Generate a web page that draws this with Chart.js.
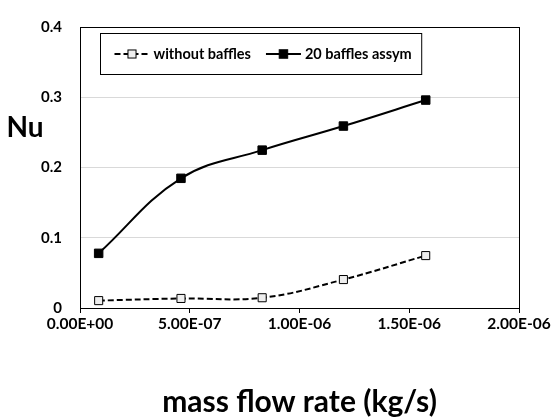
<!DOCTYPE html>
<html><head><meta charset="utf-8">
<script src="https://cdn.jsdelivr.net/npm/chart.js@4/dist/chart.umd.min.js"></script>
<style>html,body{margin:0;padding:0;background:#fff;overflow:hidden}canvas{display:block}</style>
</head><body>
<canvas id="c" width="559" height="418"></canvas>
<script>
// ---- data ----
const massFlow = [8.5e-8, 4.6e-7, 8.3e-7, 1.2e-6, 1.575e-6];
const nuWithoutBaffles = [0.0105, 0.0136, 0.0146, 0.0405, 0.0746];
const nu20BafflesAssym = [0.0778, 0.1846, 0.2247, 0.259, 0.296];
const xTickValues = [0, 5e-7, 1e-6, 1.5e-6, 2e-6];
const yTickValues = [0, 0.1, 0.2, 0.3, 0.4];
const seriesNames = ['without baffles', '20 baffles assym'];
const xTitle = 'mass flow rate (kg/s)';
const yTitle = 'Nu';

const FONT = 'Lato, "Open Sans", sans-serif';

function excelExp(v) {
  const s = Number(v).toExponential(2);
  const [m, e] = s.split('e');
  return m + 'E' + e[0] + e.slice(1).padStart(2, '0');
}
const toPoints = ys => massFlow.map((x, i) => ({x: x, y: ys[i]}));

const frame = {
  id: 'frame',
  beforeDatasetsDraw(chart) {
    const {ctx, chartArea: a} = chart;
    ctx.save();
    ctx.strokeStyle = '#000';
    ctx.lineWidth = 1;
    ctx.strokeRect(Math.round(a.left) + 0.5, Math.round(a.top) + 0.5,
      Math.round(a.right) - Math.round(a.left), Math.round(a.bottom) - Math.round(a.top));
    ctx.restore();
  }
};

const sideTitle = {
  id: 'sideTitle',
  afterDraw(chart) {
    const {ctx, chartArea: a} = chart;
    ctx.save();
    ctx.font = 'bold 28px ' + FONT;
    ctx.fillStyle = '#000';
    ctx.textAlign = 'center';
    ctx.textBaseline = 'middle';
    ctx.fillText(yTitle, 25, a.top + 101);
    ctx.restore();
  }
};

const boxLegend = {
  id: 'boxLegend',
  afterDraw(chart) {
    const {ctx, chartArea: a} = chart;
    const ds = chart.data.datasets;
    ctx.save();
    ctx.font = 'bold 14.5px ' + FONT;
    const L = Math.round(a.left) + 20.5, T = Math.round(a.top) + 6.5, H = 41;
    const markW = 35, padL = 14, gapMT = 4, gapItems = 15, padR = 10;
    const w0 = ctx.measureText(ds[0].label).width;
    const w1 = ctx.measureText(ds[1].label).width;
    const W = padL + markW + gapMT + w0 + gapItems + markW + gapMT + w1 + padR;
    ctx.strokeStyle = '#000'; ctx.lineWidth = 1;
    ctx.fillStyle = '#fff';
    ctx.fillRect(L, T, W, H);
    ctx.strokeRect(L, T, W, H);
    const cy = T + H / 2;
    let x = L + padL;
    ds.forEach((d, i) => {
      ctx.save();
      ctx.strokeStyle = d.borderColor; ctx.lineWidth = d.borderWidth;
      ctx.setLineDash(d.borderDash || []);
      ctx.beginPath(); ctx.moveTo(x, cy); ctx.lineTo(x + markW, cy); ctx.stroke();
      ctx.setLineDash([]);
      const s = d.pointRadius * Math.SQRT1_2;
      ctx.fillStyle = d.pointBackgroundColor;
      ctx.fillRect(x + markW / 2 - s, cy - s, 2 * s, 2 * s);
      ctx.lineWidth = d.pointBorderWidth; ctx.strokeStyle = d.pointBorderColor;
      ctx.strokeRect(x + markW / 2 - s, cy - s, 2 * s, 2 * s);
      ctx.restore();
      x += markW + gapMT;
      ctx.fillStyle = '#000';
      ctx.textAlign = 'left'; ctx.textBaseline = 'middle';
      ctx.fillText(d.label, x, cy);
      x += (i === 0 ? w0 : w1) + gapItems;
    });
    ctx.restore();
  }
};

new Chart(document.getElementById('c'), {
  type: 'scatter',
  data: {
    datasets: [
      {
        label: seriesNames[0],
        data: toPoints(nuWithoutBaffles),
        showLine: true,
        borderColor: '#000', borderWidth: 2, borderDash: [6, 3],
        tension: 0.4,
        pointStyle: 'rect', pointRadius: 5.7, pointHoverRadius: 5.7,
        pointBackgroundColor: '#eeeeee', pointBorderColor: '#000', pointBorderWidth: 1
      },
      {
        label: seriesNames[1],
        data: toPoints(nu20BafflesAssym),
        showLine: true,
        borderColor: '#000', borderWidth: 2,
        tension: 0.4,
        pointStyle: 'rect', pointRadius: 6, pointHoverRadius: 6,
        pointBackgroundColor: '#000', pointBorderColor: '#000', pointBorderWidth: 1
      }
    ]
  },
  options: {
    responsive: false,
    animation: false,
    devicePixelRatio: 1,
    layout: {padding: {top: 14, right: 40, left: 0, bottom: 0}},
    plugins: {legend: {display: false}, tooltip: {enabled: false}},
    scales: {
      x: {
        type: 'linear', min: 0, max: 2e-6,
        afterBuildTicks: s => { s.ticks = xTickValues.map(v => ({value: v})); },
        afterFit: s => { s.height = 110; },
        grid: {drawOnChartArea: false, drawTicks: true, tickLength: 5, color: '#000'},
        border: {color: '#000', width: 1},
        ticks: {
          color: '#000', padding: 2, maxRotation: 0, autoSkip: false,
          font: {family: FONT, size: 15.5, weight: 'bold'},
          callback: v => excelExp(v)
        },
        title: {
          display: true, text: xTitle, color: '#000',
          font: {family: FONT, size: 30, weight: 'bold', lineHeight: 1},
          padding: {top: 0, bottom: 1}
        }
      },
      y: {
        type: 'linear', min: 0, max: 0.4,
        afterBuildTicks: s => { s.ticks = yTickValues.map(v => ({value: v})); },
        afterFit: s => { s.width = 80; },
        grid: {color: '#d9d9d9', drawTicks: false},
        border: {color: '#000', width: 1},
        ticks: {
          color: '#000', padding: 18,
          font: {family: FONT, size: 15, weight: 'bold'},
          callback: v => String(Number(v.toFixed(1)))
        }
      }
    }
  },
  plugins: [frame, sideTitle, boxLegend]
});
</script>
</body></html>
